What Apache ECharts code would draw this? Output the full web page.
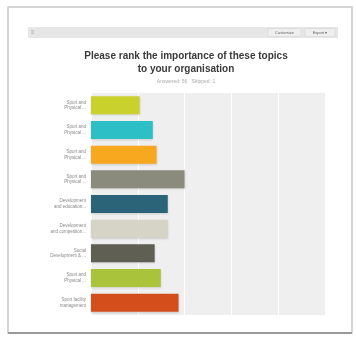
<!DOCTYPE html>
<html><head><meta charset="utf-8">
<script src="https://cdn.jsdelivr.net/npm/echarts@6/dist/echarts.min.js"></script>
<style>html,body{margin:0;padding:0;background:#fff}#c{width:356px;height:338px}</style>
</head><body><div id="c"></div>
<script>
const categories = [
  "Sport and\nPhysical ...",
  "Sport and\nPhysical ...",
  "Sport and\nPhysical ...",
  "Sport and\nPhysical ...",
  "Development\nand education...",
  "Development\nand competition...",
  "Social\nDevelopment & ...",
  "Sport and\nPhysical ...",
  "Sport facility\nmanagement"
];
const values = [1.04, 1.32, 1.40, 2.0, 1.64, 1.64, 1.36, 1.49, 1.87];
const colors = ["#c9d12c","#2dbfc6","#f7a81e","#8b8b7d","#2b6479","#d6d4c6","#5f5f53","#a9c33b","#d44e1b"];
const xTicks = [0, 1, 2, 3, 4, 5];

const chart = echarts.init(document.getElementById('c'), null, {renderer: 'canvas'});
chart.setOption({
  animation: false,
  backgroundColor: '#ffffff',
  graphic: [
    {type: 'rect', shape: {x: 8, y: 7, width: 344, height: 326}, style: {fill: '#fff', stroke: '#c8c8c8', lineWidth: 1.5}, z: -10},
    {type: 'line', shape: {x1: 8, y1: 333, x2: 352, y2: 333}, style: {stroke: '#9a9a9a', lineWidth: 2}, z: -9},
    {type: 'rect', shape: {x: 28, y: 27, width: 310, height: 11}, style: {fill: '#e6e6e6'}, z: -8},
    {type: 'text', style: {x: 31, y: 32.5, text: '≡', fill: '#aaa', font: '6px sans-serif', verticalAlign: 'middle'}},
    {type: 'rect', shape: {x: 268, y: 28.5, width: 33, height: 8}, style: {fill: '#efefef', stroke: '#d0d0d0', lineWidth: 0.5}},
    {type: 'text', style: {x: 284.5, y: 32.5, text: 'Customize', fill: '#666', font: '4px sans-serif', align: 'center', verticalAlign: 'middle'}},
    {type: 'rect', shape: {x: 305, y: 28.5, width: 30, height: 8}, style: {fill: '#efefef', stroke: '#d0d0d0', lineWidth: 0.5}},
    {type: 'text', style: {x: 320, y: 32.5, text: 'Export ▾', fill: '#666', font: '4px sans-serif', align: 'center', verticalAlign: 'middle'}}
  ],
  title: {
    text: 'Please rank the importance of these topics\nto your organisation',
    subtext: 'Answered: 56   Skipped: 1',
    left: 181, textAlign: 'center', top: 45,
    textStyle: {fontFamily: 'Liberation Sans', fontSize: 10, fontWeight: 'bold', color: '#3a3a3a', lineHeight: 13},
    subtextStyle: {fontFamily: 'Liberation Sans', fontSize: 5, color: '#aaa'},
    itemGap: 3
  },
  grid: {left: 91, right: 31, top: 93, height: 222, show: true, backgroundColor: '#efefef', borderWidth: 0, containLabel: false},
  xAxis: {
    type: 'value', min: xTicks[0], max: xTicks[xTicks.length - 1], interval: 1,
    axisLabel: {show: false}, axisLine: {show: false}, axisTick: {show: false},
    splitLine: {show: true, lineStyle: {color: '#ffffff', width: 1}}
  },
  yAxis: {
    type: 'category', data: categories, inverse: true,
    axisLine: {show: false}, axisTick: {show: false},
    axisLabel: {fontFamily: 'Liberation Sans', fontSize: 4.5, color: '#888', lineHeight: 5.5, margin: 5, align: 'right'}
  },
  series: [{
    type: 'bar', data: values.map((v, i) => ({value: v, itemStyle: {color: colors[i]}})),
    barWidth: 18,
    itemStyle: {shadowColor: 'rgba(0,0,0,0.15)', shadowBlur: 2, shadowOffsetY: 1}
  }]
});
</script></body></html>
